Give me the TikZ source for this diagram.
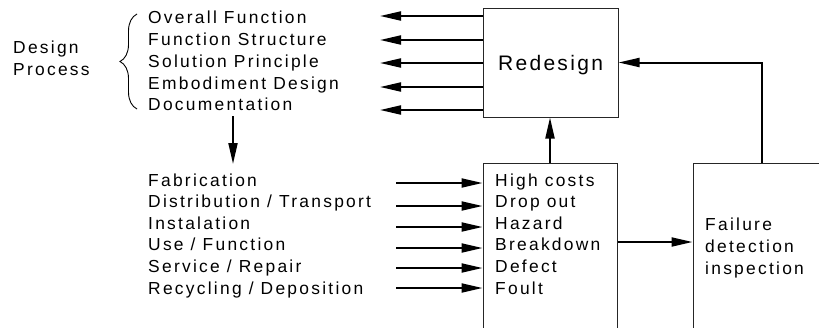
\documentclass[tikz,border=0pt]{standalone}
\usepackage{fontspec}
\setmainfont{Liberation Sans}[LetterSpace=13]
\newfontfamily\titlefont{Liberation Sans}[LetterSpace=11]
\usetikzlibrary{arrows.meta,decorations.pathreplacing}

\begin{document}
\begin{tikzpicture}[x=1pt,y=-1pt,
  arr/.style={line width=2pt,-{Triangle[length=21pt,width=9pt]}},
  box/.style={draw=black!85,line width=1pt,rectangle,inner sep=0pt},
  lbl/.style={anchor=base west,inner sep=0pt,font=\fontsize{17.4}{20}\selectfont},
]
\useasboundingbox (0,0) rectangle (819,327);
\clip (0,0) rectangle (819,327);

% boxes
\node[box,minimum width=135pt,minimum height=109pt,text depth=0pt,
      font=\titlefont\fontsize{21}{24}\selectfont] (redesign) at (550.5,62.5) {Redesign};
\node[box,minimum width=134pt,minimum height=237pt] (lowbox) at (550,281.5) {};
\node[box,minimum width=207pt,minimum height=237pt] (fail) at (796.5,281.5) {};

% design process with its brace
\node[lbl] (design) at (13,53.5) {Design};
\node[lbl] (process) at (13,75.5) {Process};
\draw[decorate,decoration={brace,amplitude=17pt},line width=0.9pt] (137,109) -- (137,14);

\node[lbl] (overall) at (148,23) {Overall Function};
\node[lbl] (fstruct) at (148,45.5) {Function Structure};
\node[lbl] (solution) at (148,67.5) {Solution Principle};
\node[lbl] (embod) at (148,89) {Embodiment Design};
\node[lbl] (doc) at (148,110.5) {Documentation};

% life-cycle phases
\node[lbl] (fab) at (148,186) {Fabrication};
\node[lbl] (distr) at (148,207.6) {Distribution / Transport};
\node[lbl] (inst) at (148,229.2) {Instalation};
\node[lbl] (use) at (148,250.8) {Use / Function};
\node[lbl] (serv) at (148,272.4) {Service / Repair};
\node[lbl] (recy) at (148,294) {Recycling / Deposition};

% failure kinds
\node[lbl] (costs) at (495,186) {High costs};
\node[lbl] (drop) at (495,207.6) {Drop out};
\node[lbl] (hazard) at (495,229.2) {Hazard};
\node[lbl] (bd) at (495,250.8) {Breakdown};
\node[lbl] (defect) at (495,272.4) {Defect};
\node[lbl] (foult) at (495,294) {Foult};

% failure detection
\node[lbl] (failt) at (705,230) {Failure};
\node[lbl] (dett) at (705,252) {detection};
\node[lbl] (inspt) at (705,274) {inspection};

% feedback arrows from redesign to the design steps
\foreach \y [count=\i] in {16,40,63,87,110} {
  \coordinate (out\i) at (380,\y);
  \draw[arr] (out\i -| redesign.west) -- (out\i);
}

% documentation leads to the life cycle
\coordinate (dtop) at (233,116);
\coordinate (dbot) at (233,164);
\draw[arr] (dtop) -- (dbot);

% life-cycle phases into failure kinds
\foreach \y [count=\i] in {183,206,227,248,268,288} {
  \coordinate (in\i) at (396,\y);
  \draw[arr] (in\i) -- (in\i -| lowbox.west);
}

% failures to redesign and detection
\draw[arr] (lowbox.north) -- (lowbox.north |- redesign.south);
\coordinate (bdy) at (0,242);
\draw[arr] (lowbox.east |- bdy) -- (fail.west |- bdy);
\draw[arr] ([xshift=69pt]fail.north west) |- (redesign.east);
\end{tikzpicture}
\end{document}
